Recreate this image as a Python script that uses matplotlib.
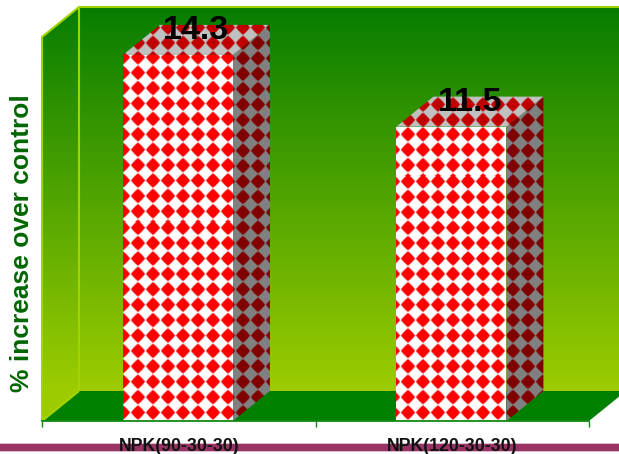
import numpy as np
import matplotlib
matplotlib.use("Agg")
import matplotlib.pyplot as plt
from matplotlib.colors import to_rgb
from matplotlib.patches import Polygon, Rectangle

plt.rcParams["font.family"] = ["Liberation Sans", "DejaVu Sans"]

# chart data
categories = ["NPK(90-30-30)", "NPK(120-30-30)"]
values = [14.3, 11.5]
y_max = 15
y_label = "% increase over control"

# canvas and plot box, in pixels
W, H = 619, 454
LEFT, RIGHT, BOTTOM, TOP = 42, 589, 421, 37
DEPTH_X_PX, DEPTH_Y_PX = 37, 30

fig = plt.figure(figsize=(W / 100, H / 100), dpi=100, facecolor="white")
ax = fig.add_axes([LEFT / W, 1 - BOTTOM / H, (RIGHT - LEFT) / W, (BOTTOM - TOP) / H])
ax.patch.set_visible(False)
xmax = len(categories)
ax.set_xlim(0, xmax)
ax.set_ylim(0, y_max)

# depth of the 3D box expressed in data units
dx = DEPTH_X_PX * xmax / (RIGHT - LEFT)
dy = DEPTH_Y_PX * y_max / (BOTTOM - TOP)


def full_canvas_image(rgb, zorder, clip_patch):
    """Paint a canvas-sized RGB array, showing only what lies inside clip_patch."""
    im = ax.imshow(rgb, extent=(0, 1, 0, 1), transform=fig.transFigure, origin="upper",
                   aspect="auto", interpolation="nearest", zorder=zorder)
    im.set_clip_box(fig.bbox)
    im.set_clip_path(clip_patch)
    return im


def diamonds(red, light):
    """Soft, slightly rounded diamond fill on a lattice shared by all the faces."""
    px, py = np.meshgrid(np.arange(W) + 0.5, np.arange(H) + 0.5)
    period_x, period_y = 15.0, 15.4
    ox = (px - 138 + period_x / 2) % period_x - period_x / 2
    oy = (py - 412.5 + period_y / 2) % period_y - period_y / 2
    dist = (np.abs(ox / (period_x / 2)) ** 1.12 + np.abs(oy / (period_y / 2)) ** 1.12) ** (1 / 1.12)
    mix = np.clip((0.93 - dist) / 0.26 + 0.5, 0, 1)[..., None]
    return mix * np.array(to_rgb(red)) + (1 - mix) * np.array(to_rgb(light))


# walls: a vertical gradient behind both the back and the left wall
top_col, bot_col = np.array(to_rgb("#067D00")), np.array(to_rgb("#9CCC00"))
ramp = np.clip((np.arange(H) + 0.5 - 7) / (388 - 7), 0, 1)[:, None, None]
gradient = np.broadcast_to(top_col * (1 - ramp) + bot_col * ramp, (H, W, 3))
wall = Polygon([(0, 0), (0, y_max), (dx, y_max + dy), (xmax + dx, y_max + dy),
                (xmax + dx, dy), (dx, dy)], transform=ax.transData, fc="none", ec="none")
ax.add_patch(wall)
wall.set_clip_on(False)
full_canvas_image(gradient, 1, wall)

# floor
ax.add_patch(Polygon([(0, 0), (dx, dy), (xmax + dx, dy), (xmax, 0)], fc="#008000", ec="none",
                     clip_on=False, zorder=2))

# wall outlines
edge = dict(color="#A4D400", lw=1.5, clip_on=False, zorder=2.2, solid_capstyle="butt")
ax.plot([0, 0, dx, xmax + dx], [0, y_max, y_max + dy, y_max + dy], **edge)
ax.plot([dx, dx], [dy, y_max + dy], **edge)
ax.plot([0, dx], [0, dy], **edge)

# bars: front, side and top faces
front_tex = diamonds("#FF0000", "#FFFFFF")
side_tex = diamonds("#800000", "#808080")
top_tex = diamonds("#C00000", "#C0C0C0")
centers = np.arange(len(categories)) + 0.5
bars = ax.bar(centers - 0.003, values, width=0.402, fc="none", ec="none", zorder=3)
for bar, value in zip(bars, values):
    l, r = bar.get_x(), bar.get_x() + bar.get_width()
    side = Polygon([(r, 0), (r + dx, dy), (r + dx, value + dy), (r, value)],
                   fc="none", ec="none", clip_on=False)
    roof = Polygon([(l, value), (l + dx, value + dy), (r + dx, value + dy), (r, value)],
                   fc="none", ec="none", clip_on=False)
    ax.add_patch(side)
    ax.add_patch(roof)
    full_canvas_image(side_tex, 3, side)
    full_canvas_image(top_tex, 3.1, roof)
    full_canvas_image(front_tex, 3.2, bar)
    ax.text((l + r) / 2 + dx / 2, value + 15.5 * y_max / (BOTTOM - TOP), f"{value}",
            ha="center", va="baseline", fontsize=24.5, color="black", zorder=5,
            fontweight="bold", clip_on=False)

# axes furniture
ax.set_xlim(0, xmax)
ax.set_ylim(0, y_max)
for name in ("top", "left", "right"):
    ax.spines[name].set_visible(False)
ax.spines["bottom"].set_color("#118A11")
ax.spines["bottom"].set_linewidth(1.3)
ax.spines["bottom"].set_zorder(4)
ax.set_yticks([])
ax.set_xticks(np.arange(xmax + 1))
ax.set_xticklabels([])
ax.tick_params(axis="x", which="major", length=4, width=1, color="#118A11")
ax.set_xticks(centers, minor=True)
ax.set_xticklabels(categories, minor=True, fontsize=12.8, fontweight="bold", color="#111111")
ax.tick_params(axis="x", which="minor", length=0, pad=12)

ax.set_ylabel(y_label, fontsize=19, fontweight="bold", color="#006600", va="center")
ax.yaxis.set_label_coords((22 - LEFT) / (RIGHT - LEFT), (BOTTOM - 243.5) / (BOTTOM - TOP))

# rule along the foot of the slide
for y0, y1, colour in [(442.5, 452, "#DDBBCC"), (443.5, 451, "#993366")]:
    fig.add_artist(Rectangle((0, 1 - y1 / H), 1, (y1 - y0) / H, transform=fig.transFigure,
                             fc=colour, ec="none", zorder=-1))

fig.savefig("out.png", dpi=100, facecolor="white")
